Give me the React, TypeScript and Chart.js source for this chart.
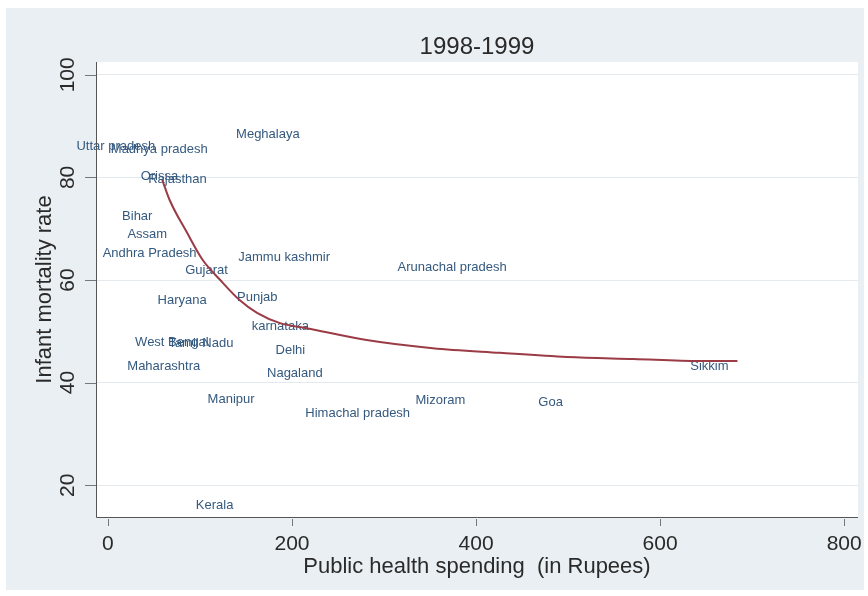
import React, { useEffect, useRef } from "react";
import { Chart, registerables } from "chart.js";

Chart.register(...registerables);

// ---- data ----
const states = [
  "Uttar pradesh", "Madhya pradesh", "Meghalaya", "Orissa", "Rajasthan",
  "Bihar", "Assam", "Andhra Pradesh", "Gujarat", "Jammu kashmir",
  "Arunachal pradesh", "Haryana", "Punjab", "karnataka", "West Bengal",
  "Tamil Nadu", "Delhi", "Maharashtra", "Nagaland", "Manipur",
  "Himachal pradesh", "Mizoram", "Goa", "Sikkim", "Kerala",
];
const spending = [
  60, 117, 217, 85, 116,
  57, 73, 105, 139, 250,
  442, 116, 193, 227, 118,
  145, 223, 109, 242, 168,
  337, 397, 503, 683, 145,
];
const mortality = [
  86.0, 85.4, 88.3, 80.1, 79.7,
  72.3, 68.8, 65.1, 61.8, 64.5,
  62.5, 56.1, 56.7, 51.0, 47.9,
  47.7, 46.3, 43.2, 41.7, 36.8,
  34.0, 36.6, 36.2, 43.2, 16.1,
];
// fitted curve
const fitX = [59, 67, 86, 103, 122, 143, 162, 187, 216, 281, 353, 426, 499, 571, 643, 684];
const fitY = [79.5, 75.6, 69.2, 63.9, 60.0, 56.1, 53.6, 51.6, 50.6, 48.3, 46.7, 45.8, 45.0, 44.6, 44.2, 44.2];

const xTicks = [0, 200, 400, 600, 800];
const yTicks = [20, 40, 60, 80, 100];
const chartTitle = "1998-1999";
const xTitle = "Public health spending  (in Rupees)";
const yTitle = "Infant mortality rate";

const FONT = '"Liberation Sans", Arial, Helvetica, sans-serif';

const decor = {
  id: "decor",
  beforeDraw(chart: any) {
    const { ctx, chartArea: a } = chart;
    ctx.save();
    ctx.fillStyle = "#ffffff";
    ctx.fillRect(0, 0, chart.width, chart.height);
    ctx.fillStyle = "#e9eff2";
    ctx.fillRect(6, 8, 858, 582);
    ctx.fillStyle = "#ffffff";
    ctx.fillRect(a.left, a.top, a.right - a.left, a.bottom - a.top);
    ctx.restore();
  },
  beforeDatasetsDraw(chart: any) {
    const { ctx } = chart;
    const xs = chart.scales.x;
    const ys = chart.scales.y;
    ctx.save();
    ctx.font = `13px ${FONT}`;
    ctx.fillStyle = "#34597f";
    ctx.textAlign = "right";
    ctx.textBaseline = "middle";
    states.forEach((s, i) => {
      const px = xs.getPixelForValue(spending[i]) - 8;
      const py = ys.getPixelForValue(mortality[i]);
      ctx.fillText(s, px, py);
    });
    ctx.restore();
  },
  afterDraw(chart: any) {
    const { ctx, chartArea: a } = chart;
    const xs = chart.scales.x;
    const ys = chart.scales.y;
    ctx.save();
    // axis lines
    ctx.strokeStyle = "#555";
    ctx.lineWidth = 1;
    ctx.beginPath();
    ctx.moveTo(a.left + 0.5, a.top);
    ctx.lineTo(a.left + 0.5, a.bottom + 0.5);
    ctx.lineTo(a.right, a.bottom + 0.5);
    ctx.stroke();
    // ticks
    ctx.strokeStyle = "#777";
    ctx.beginPath();
    yTicks.forEach((v) => {
      const py = Math.round(ys.getPixelForValue(v)) + 0.5;
      ctx.moveTo(85, py);
      ctx.lineTo(a.left, py);
    });
    xTicks.forEach((v) => {
      const px = Math.round(xs.getPixelForValue(v)) + 0.5;
      ctx.moveTo(px, a.bottom + 2);
      ctx.lineTo(px, a.bottom + 9);
    });
    ctx.stroke();
    // tick labels
    ctx.fillStyle = "#2a2a2a";
    ctx.font = `21px ${FONT}`;
    ctx.textAlign = "center";
    ctx.textBaseline = "middle";
    xTicks.forEach((v) => {
      ctx.fillText(String(v), xs.getPixelForValue(v), 544);
    });
    yTicks.forEach((v) => {
      ctx.save();
      ctx.translate(68, ys.getPixelForValue(v));
      ctx.rotate(-Math.PI / 2);
      ctx.fillText(String(v), 0, 0);
      ctx.restore();
    });
    // axis titles
    ctx.font = `22px ${FONT}`;
    ctx.fillText(xTitle, (a.left + a.right) / 2, 567);
    ctx.save();
    ctx.translate(45, (a.top + a.bottom) / 2);
    ctx.rotate(-Math.PI / 2);
    ctx.fillText(yTitle, 0, 0);
    ctx.restore();
    // chart title
    ctx.font = `24px ${FONT}`;
    ctx.fillText(chartTitle, (a.left + a.right) / 2, 47);
    ctx.restore();
  },
};

export default function App() {
  const ref = useRef<HTMLCanvasElement | null>(null);
  useEffect(() => {
    if (!ref.current) return;
    const chart = new Chart(ref.current, {
      type: "scatter",
      data: {
        datasets: [
          {
            label: "states",
            data: states.map((_, i) => ({ x: spending[i], y: mortality[i] })),
            pointRadius: 0,
            pointHoverRadius: 0,
            showLine: false,
          },
          {
            label: "fit",
            data: fitX.map((x, i) => ({ x, y: fitY[i] })),
            showLine: true,
            borderColor: "#9b3b46",
            borderWidth: 2,
            pointRadius: 0,
            cubicInterpolationMode: "monotone",
            fill: false,
          },
        ],
      },
      options: {
        responsive: false,
        animation: false,
        devicePixelRatio: 1,
        layout: { padding: { left: 96, top: 62, right: 10, bottom: 79 } },
        plugins: {
          legend: { display: false },
          tooltip: { enabled: false },
          title: { display: false },
        },
        scales: {
          x: {
            type: "linear",
            min: -13,
            max: 815,
            afterBuildTicks: (s: any) => {
              s.ticks = xTicks.map((v) => ({ value: v }));
            },
            ticks: { display: false },
            grid: { display: false, drawTicks: false },
            border: { display: false },
            title: { display: false },
          },
          y: {
            type: "linear",
            min: 13.8,
            max: 102.5,
            afterBuildTicks: (s: any) => {
              s.ticks = yTicks.map((v) => ({ value: v }));
            },
            ticks: { display: false },
            grid: { display: true, drawTicks: false, color: "#e3e9ec", lineWidth: 1 },
            border: { display: false },
            title: { display: false },
          },
        },
      },
      plugins: [decor],
    } as any);
    return () => chart.destroy();
  }, []);
  return (
    <div style={{ position: "absolute", left: 0, top: 0, width: 868, height: 596 }}>
      <canvas ref={ref} width={868} height={596} style={{ display: "block" }} />
    </div>
  );
}
